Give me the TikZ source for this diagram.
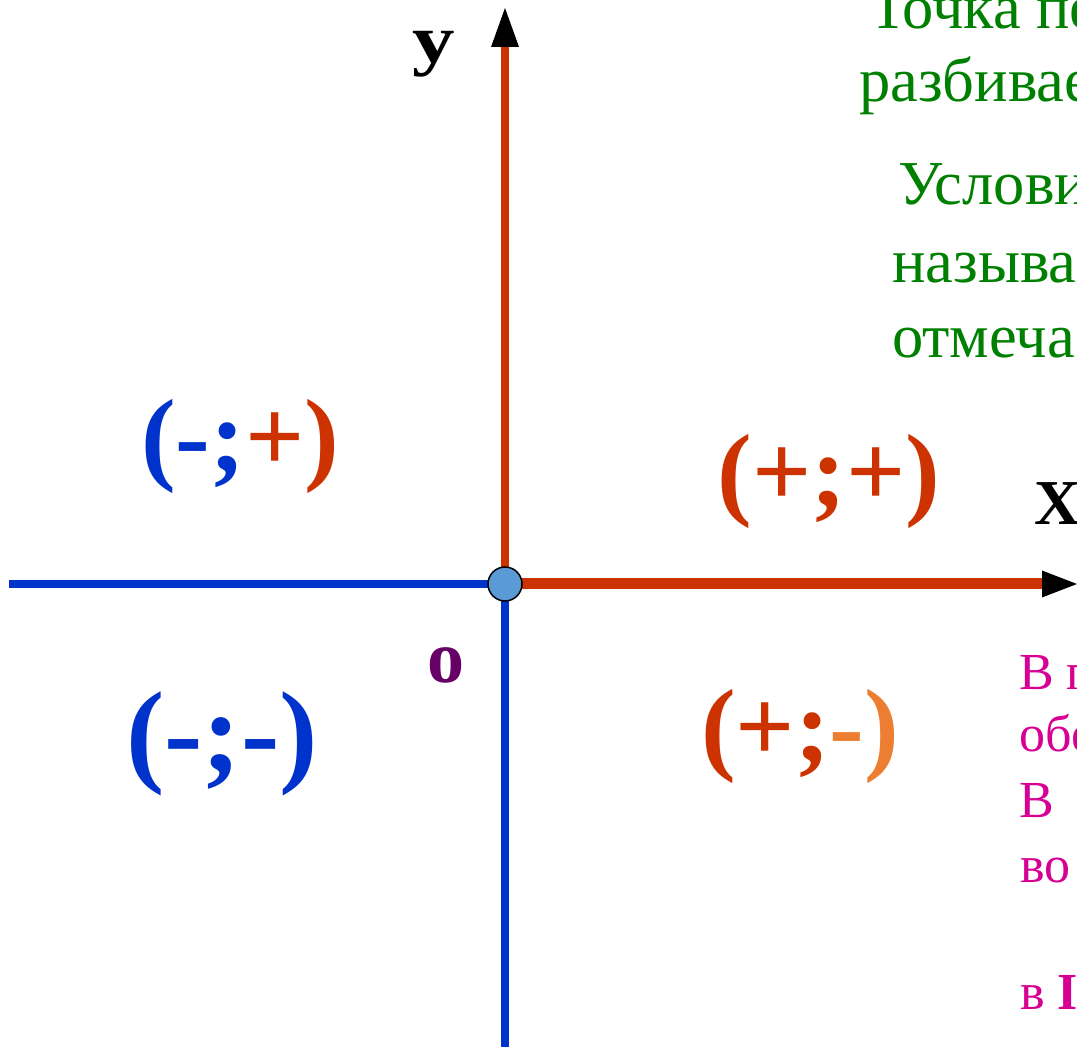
\documentclass[tikz,border=0pt]{standalone}
\usepackage{fontspec}
\setmainfont{Liberation Serif}
\usepackage{tikz}
\usetikzlibrary{arrows.meta}

\definecolor{axred}{RGB}{204,51,0}
\definecolor{axblue}{RGB}{0,51,204}
\definecolor{lblorange}{RGB}{237,125,49}
\definecolor{txtgreen}{RGB}{0,128,0}
\definecolor{txtpink}{RGB}{214,0,147}
\definecolor{dotblue}{RGB}{91,155,213}
\definecolor{zeropurple}{RGB}{102,0,102}

\begin{document}
\begin{tikzpicture}[x=1pt, y=1pt,
		axisred/.style={draw=axred, line width=#1},
		axisblue/.style={draw=axblue, line width=7.8pt},
		quadlbl/.style={anchor=base, inner sep=0pt, font=\fontsize{104}{110}\selectfont\bfseries},
		axislbl/.style={anchor=base, inner sep=0pt, font=\fontsize{66}{70}\selectfont\bfseries},
		greentxt/.style={anchor=base west, inner sep=0pt, text=txtgreen, font=\fontsize{62.5}{68}\selectfont},
		pinktxt/.style={anchor=base west, inner sep=0pt, text=txtpink, font=\fontsize{52}{58}\selectfont},
		origdot/.style={circle, draw=black, line width=1.5pt, fill=dotblue, minimum size=34pt, inner sep=0pt}]
	\useasboundingbox (0,0) rectangle (1077,1047);
	\clip (0,0) rectangle (1077,1047);

	% Axes
	\coordinate (orig) at (505,463);
	\coordinate (ytip) at (505,1039);
	\coordinate (ybot) at (505,0);
	\coordinate (xleft) at (9,463);
	\coordinate (xtip) at (1077,463);
	\draw[axisblue] (orig) -- (ybot);
	\draw[axisblue] (xleft) -- (orig);
	\draw[axisred=8pt, -{Triangle[length=39pt, width=28pt, line width=0pt, color=black]}] (orig) -- (ytip);
	\draw[axisred=11pt, -{Triangle[length=35pt, width=27pt, line width=0pt, color=black]}] (orig) -- (xtip);
	\node[origdot] (O) at (orig) {};

	% Axis names and origin
	\node[axislbl, font=\fontsize{68}{72}\selectfont\bfseries] (ylbl) at (434,984) {\scalebox{1.25}[1]{у}};
	\node[axislbl, anchor=base west, font=\fontsize{64}{70}\selectfont\bfseries] (xlbl) at (1034,522) {Х};
	\node[axislbl, text=zeropurple, font=\fontsize{74}{80}\selectfont\bfseries] (zero) at (446,364) {о};

	% Signs in the quarters
	\node[quadlbl] (q2) at (240,575) {\textcolor{axblue}{(-;}\textcolor{axred}{+)}};
	\node[quadlbl, text=axred] (q1) at (829,540) {(+;+)};
	\node[quadlbl, text=axblue, font=\fontsize{115}{120}\selectfont\bfseries] (q3) at (222,275) {(-;-)};
	\node[quadlbl] (q4) at (800,285) {\textcolor{axred}{(+;}\textcolor{lblorange}{-)}};

	% Green text on the right ; cut by the frame
	\node[greentxt] (g1) at (869,1018) {Точка пе};
	\node[greentxt] (g2) at (859,945) {разбивае};
	\node[greentxt] (g3) at (898,842) {Услови};
	\node[greentxt] (g4) at (892,764) {называ};
	\node[greentxt] (g5) at (892,689) {отмеча};

	% Pink text on the right
	\node[pinktxt] (p1) at (1019,357) {В п};
	\node[pinktxt] (p2) at (1019,295) {обе};
	\node[pinktxt] (p3) at (1019,229) {В};
	\node[pinktxt] (p4) at (1020,164) {во};
	\node[pinktxt] (p5) at (1020,37) {в \textbf{I}};
\end{tikzpicture}
\end{document}
